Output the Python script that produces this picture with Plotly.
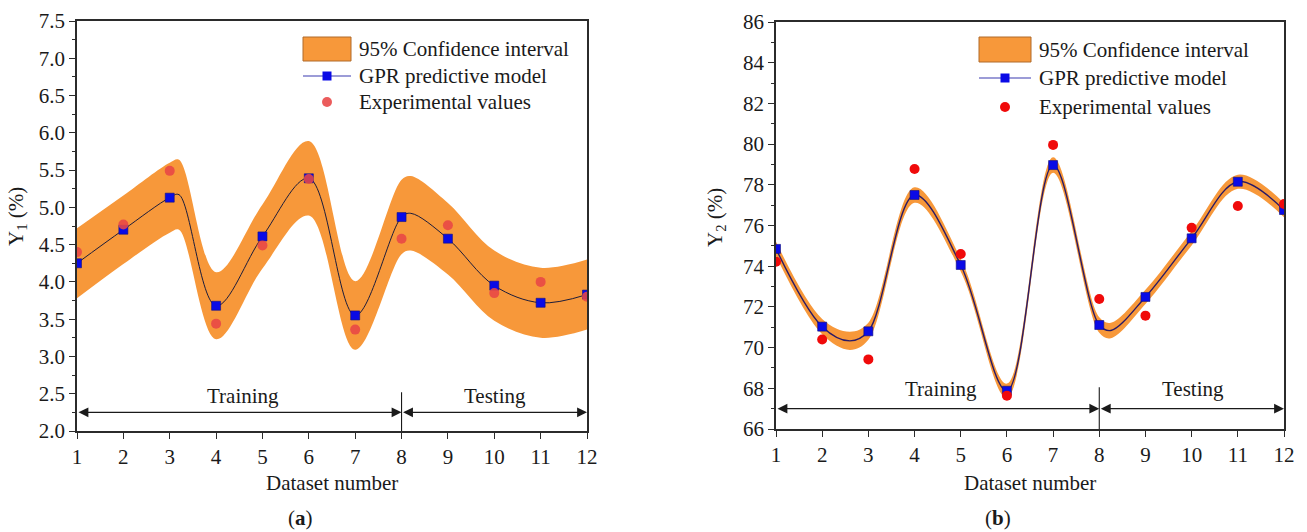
import plotly.graph_objects as go

# ---- data -------------------------------------------------------------
dataset = list(range(1, 13))

# panel (a): Y1
y1_gpr = [4.25, 4.70, 5.13, 3.68, 4.61, 5.39, 3.55, 4.87, 4.58, 3.95, 3.72, 3.83]
y1_exp = [4.40, 4.77, 5.49, 3.44, 4.49, 5.38, 3.36, 4.58, 4.76, 3.85, 4.00, 3.80]
y1_ci = [0.47, 0.46, 0.47, 0.45, 0.43, 0.50, 0.46, 0.50, 0.48, 0.47, 0.47, 0.47]
# extra points on the predictive curve between datasets (turning points)
y1_knot_x = [3.2, 8.2]
y1_knot_y = [5.17, 4.92]
y1_knot_ci = [0.47, 0.50]

# panel (b): Y2
y2_gpr = [74.85, 71.03, 70.80, 77.50, 74.06, 67.88, 78.97, 71.11, 72.49, 75.37, 78.15, 76.76]
y2_exp = [74.22, 70.40, 69.42, 78.78, 74.60, 67.64, 79.96, 72.39, 71.57, 75.89, 76.96, 77.06]
y2_ci = [0.35, 0.38, 0.42, 0.38, 0.32, 0.35, 0.38, 0.38, 0.35, 0.35, 0.35, 0.35]
y2_knot_x = [2.6, 8.25]
y2_knot_y = [70.33, 70.84]
y2_knot_ci = [0.45, 0.38]

y1_range = [2.0, 7.5]
y2_range = [66, 86]
split_at = 8
train_text, test_text = "Training", "Testing"
legend_labels = ["95% Confidence interval", "GPR predictive model", "Experimental values"]

# ---- styling ----------------------------------------------------------
FONT = "Liberation Serif"
BAND = "#F7983A"
BLUE = "#0A0AE6"
AXIS = "#2b2b2b"
TXT = "#1a1a1a"
W, H = 1307, 532

panels = [
    dict(gpr=y1_gpr, exp=y1_exp, ci=y1_ci, kx=y1_knot_x, ky=y1_knot_y, kci=y1_knot_ci,
         yr=y1_range, dtick=0.5, minor=0.25,
         fmt=".1f", line="#1c1c3a", lw=1.0, red="rgba(232,70,70,0.88)",
         px=(77, 587), py=(21, 431), arrow_y=2.25, split_top=2.52, text_y=2.47,
         ylabel="Y<sub>1</sub> (%)", tag="(<b>a</b>)",
         leg_patch=(303, 351, 37, 61), leg_rows=(49, 76, 102), leg_text=357),
    dict(gpr=y2_gpr, exp=y2_exp, ci=y2_ci, kx=y2_knot_x, ky=y2_knot_y, kci=y2_knot_ci,
         yr=y2_range, dtick=2, minor=1,
         fmt="d", line="#2a1a66", lw=1.4, red="#F00A0A",
         px=(776, 1284), py=(22, 429), arrow_y=67.0, split_top=68.05, text_y=67.95,
         ylabel="Y<sub>2</sub> (%)", tag="(<b>b</b>)",
         leg_patch=(979, 1031, 37, 62), leg_rows=(50, 78, 107), leg_text=1037),
]

fig = go.Figure()
annotations, shapes = [], []


def label(x, y, text, xanchor="center", **kw):
    """Paper-positioned text given in pixel coordinates from the top-left."""
    return dict(x=x / W, y=(H - y) / H, xref="paper", yref="paper", text=text,
                showarrow=False, xanchor=xanchor, yanchor="middle",
                font=dict(family=FONT, size=21, color=TXT), **kw)


for i, p in enumerate(panels, start=1):
    xa = "x" if i == 1 else f"x{i}"
    ya = "y" if i == 1 else f"y{i}"

    # curve knots: dataset points plus the extra turning points, in x order
    knots = sorted(zip(dataset + p["kx"], p["gpr"] + p["ky"], p["ci"] + p["kci"]))
    cx_ = [k[0] for k in knots]
    cy_ = [k[1] for k in knots]
    lower = [k[1] - k[2] for k in knots]
    upper = [k[1] + k[2] for k in knots]
    spline = dict(shape="spline", smoothing=1.0)

    # confidence band
    fig.add_trace(go.Scatter(x=cx_, y=lower, mode="lines", xaxis=xa, yaxis=ya,
                             line=dict(width=0, color=BAND, **spline),
                             showlegend=False, hoverinfo="skip"))
    fig.add_trace(go.Scatter(x=cx_, y=upper, mode="lines", xaxis=xa, yaxis=ya,
                             fill="tonexty", fillcolor=BAND,
                             line=dict(width=0, color=BAND, **spline),
                             showlegend=False, hoverinfo="skip"))
    # GPR curve and its sample points
    fig.add_trace(go.Scatter(x=cx_, y=cy_, mode="lines", xaxis=xa, yaxis=ya,
                             line=dict(width=p["lw"], color=p["line"], **spline),
                             showlegend=False))
    fig.add_trace(go.Scatter(x=dataset, y=p["gpr"], mode="markers", xaxis=xa, yaxis=ya,
                             marker=dict(symbol="square", size=9, color=BLUE,
                                         line=dict(width=0.6, color="#101080")),
                             showlegend=False))
    # experimental values
    fig.add_trace(go.Scatter(x=dataset, y=p["exp"], mode="markers", xaxis=xa, yaxis=ya,
                             marker=dict(symbol="circle", size=10, color=p["red"], line=dict(width=0)),
                             showlegend=False))

    # axes
    x0, x1 = p["px"]
    ytop, ybot = p["py"]
    common = dict(showline=True, linecolor=AXIS, linewidth=1.6, mirror=True,
                  ticks="outside", ticklen=6, tickwidth=1.4, tickcolor=AXIS,
                  showgrid=False, zeroline=False, automargin=False,
                  tickfont=dict(family=FONT, size=21, color=TXT))
    fig.layout[f"xaxis{'' if i == 1 else i}"] = dict(
        common, domain=[x0 / W, x1 / W], range=[1, 12], dtick=1, tick0=1,
        anchor=ya)
    fig.layout[f"yaxis{'' if i == 1 else i}"] = dict(
        common, domain=[(H - ybot) / H, (H - ytop) / H], range=p["yr"],
        dtick=p["dtick"], tick0=p["yr"][0], tickformat=p["fmt"], anchor=xa,
        minor=dict(ticks="outside", ticklen=3, tickwidth=1.2, tickcolor=AXIS,
                   dtick=p["minor"], tick0=p["yr"][0], showgrid=False))

    # training / testing arrows
    ay = p["arrow_y"]
    for a, b in [(1, split_at), (split_at, 12)]:
        annotations.append(dict(x=b, y=ay, ax=a, ay=ay, xref=xa, yref=ya, axref=xa, ayref=ya,
                                text="", showarrow=True, arrowhead=2, startarrowhead=2,
                                arrowside="end+start", arrowsize=1.8, arrowwidth=1.1,
                                arrowcolor=TXT, standoff=0, startstandoff=0))
    shapes.append(dict(type="line", xref=xa, yref=ya, x0=split_at, x1=split_at,
                       y0=p["yr"][0], y1=p["split_top"], line=dict(color=TXT, width=1.1)))
    for tx, txt in [(4.58, train_text), (10.02, test_text)]:
        annotations.append(dict(x=tx, y=p["text_y"], xref=xa, yref=ya, text=txt,
                                showarrow=False, xanchor="center", yanchor="middle",
                                font=dict(family=FONT, size=21, color=TXT)))

    # axis titles and panel tags
    annotations.append(label((x0 + x1) / 2, 483, "Dataset number"))
    annotations.append(label(x0 - 60, 217, p["ylabel"], textangle=-90))
    annotations.append(label((x0 + x1) / 2 - 32, 518, p["tag"]))

    # legend box drawn in the plot's top-right corner
    lx0, lx1, ly0, ly1 = p["leg_patch"]
    rows = p["leg_rows"]
    shapes.append(dict(type="rect", xref="paper", yref="paper",
                       x0=lx0 / W, x1=lx1 / W, y0=(H - ly1) / H, y1=(H - ly0) / H,
                       fillcolor=BAND, line=dict(color="#b06a2a", width=1)))
    shapes.append(dict(type="line", xref="paper", yref="paper",
                       x0=lx0 / W, x1=lx1 / W, y0=(H - rows[1]) / H, y1=(H - rows[1]) / H,
                       line=dict(color="#3a3ab0", width=1.2)))
    mx = (lx0 + lx1) / 2
    shapes.append(dict(type="rect", xref="paper", yref="paper",
                       x0=(mx - 4.5) / W, x1=(mx + 4.5) / W,
                       y0=(H - rows[1] - 4.5) / H, y1=(H - rows[1] + 4.5) / H,
                       fillcolor=BLUE, line=dict(width=0)))
    shapes.append(dict(type="circle", xref="paper", yref="paper",
                       x0=(mx - 5) / W, x1=(mx + 5) / W,
                       y0=(H - rows[2] - 5) / H, y1=(H - rows[2] + 5) / H,
                       fillcolor=p["red"], line=dict(width=0)))
    for text, ry in zip(legend_labels, rows):
        annotations.append(label(p["leg_text"], ry, text, xanchor="left"))

fig.update_layout(width=W, height=H, margin=dict(l=0, r=0, t=0, b=0, autoexpand=False),
                  paper_bgcolor="white", plot_bgcolor="white",
                  annotations=annotations, shapes=shapes, showlegend=False)

fig.write_html("out.html")
